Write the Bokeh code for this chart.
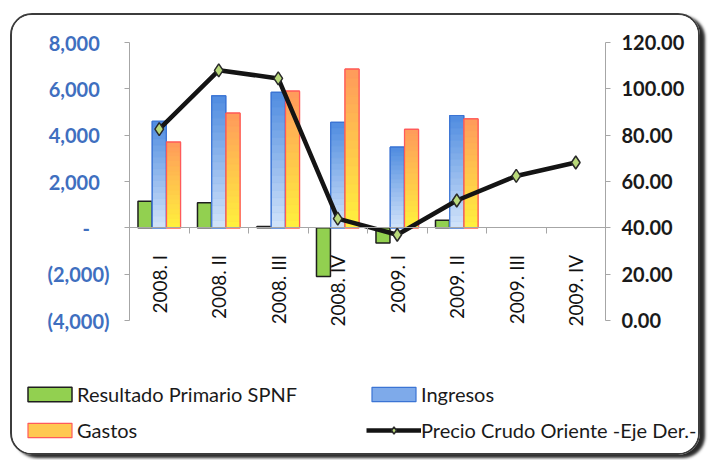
import numpy as np
from bokeh.plotting import figure
from bokeh.models import (Range1d, LinearAxis, FixedTicker, Legend, LegendItem,
                          ColumnDataSource)
from bokeh.embed import file_html
from bokeh.resources import INLINE

# Quarterly fiscal data (millions) and oil price (USD/bbl)
quarters = ["2008. I", "2008. II", "2008. III", "2008. IV",
            "2009. I", "2009. II", "2009. III", "2009. IV"]
resultado = [1150, 1080, 60, -2100, -650, 330]
ingresos = [4600, 5700, 5850, 4550, 3480, 4850]
gastos = [3700, 4950, 5900, 6850, 4250, 4700]
precio = [82.6, 108.0, 104.5, 44.0, 37.0, 51.8, 62.4, 68.2]

left_ticks = [-4000, -2000, 0, 2000, 4000, 6000, 8000]
left_tick_labels = ["(4,000)", "(2,000)", "-", "2,000", "4,000", "6,000", "8,000"]
right_ticks = [0, 20, 40, 60, 80, 100, 120]
right_tick_labels = ["0.00", "20.00", "40.00", "60.00", "80.00", "100.00", "120.00"]

FONT = "Lato"
NB = "\u00a0"

# Canvas geometry (px). The frame fills the whole canvas; the axes are pinned
# at fixed data locations and bounded, leaving room around them for labels
# and the legend.
W, H = 690, 442
AX_L, AX_R = 117, 593          # x of left / right axis lines inside canvas
AX_T, AX_B = 27, 305           # y of top / bottom ticks inside canvas

n = len(quarters)
px_x = (AX_R - AX_L) / n
x_start = -AX_L / px_x
x_end = n + (W - AX_R) / px_x

lo, hi = left_ticks[0], left_ticks[-1]
px_y = (AX_B - AX_T) / (hi - lo)
y_end = hi + AX_T / px_y
y_start = lo - (H - AX_B) / px_y

r_lo, r_hi = right_ticks[0], right_ticks[-1]
px_r = (AX_B - AX_T) / (r_hi - r_lo)
r_end = r_hi + AX_T / px_r
r_start = r_lo - (H - AX_B) / px_r

p = figure(width=W, height=H, x_range=Range1d(x_start, x_end),
           y_range=Range1d(y_start, y_end), x_axis_type=None, y_axis_type=None,
           output_backend="svg", toolbar_location=None, min_border=0)
p.outline_line_color = None
p.grid.visible = False
p.background_fill_color = "white"
p.border_fill_color = "white"
p.styles = {"margin-left": "10px", "margin-top": "13px",
            "border": "2px solid #3c3c3c", "border-radius": "22px",
            "box-shadow": "5px 3px 3px #2a2a2a", "overflow": "hidden"}


def style_value_axis(ax, color, standoff):
    ax.axis_line_color = "#a6a6a6"
    ax.major_tick_line_color = "#a6a6a6"
    ax.major_tick_out = 5
    ax.major_tick_in = 0
    ax.minor_tick_line_color = None
    ax.major_label_standoff = standoff
    ax.major_label_text_font = FONT
    ax.major_label_text_font_style = "bold"
    ax.major_label_text_font_size = "20px"
    ax.major_label_text_color = color


# Left axis (fiscal values)
ya = LinearAxis(fixed_location=0, bounds=(lo, hi),
                ticker=FixedTicker(ticks=left_ticks, minor_ticks=[]))
overrides = {}
for t, lab in zip(left_ticks, left_tick_labels):
    if t > 0:
        overrides[t] = lab + NB * 2
    elif t == 0:
        overrides[t] = lab + NB * 4
    else:
        overrides[t] = lab
ya.major_label_overrides = overrides
style_value_axis(ya, "#3f6fbf", 15)
p.add_layout(ya, "left")

# Right axis (oil price)
p.extra_y_ranges = {"precio": Range1d(r_start, r_end)}
ra = LinearAxis(y_range_name="precio", fixed_location=n, bounds=(r_lo, r_hi),
                ticker=FixedTicker(ticks=right_ticks, minor_ticks=[]))
ra.major_label_overrides = {t: lab for t, lab in zip(right_ticks, right_tick_labels)}
style_value_axis(ra, "#1a1a1a", 11)
p.add_layout(ra, "right")

# Category axis sitting on the zero line; minor ticks mark category boundaries
centers = [i + 0.5 for i in range(n)]
xa = LinearAxis(fixed_location=0, bounds=(0, n),
                ticker=FixedTicker(ticks=centers, minor_ticks=list(range(n + 1))))
xa.major_label_overrides = {c: q for c, q in zip(centers, quarters)}
xa.major_label_orientation = np.pi / 2
xa.major_tick_line_color = None
xa.minor_tick_line_color = "#a6a6a6"
xa.minor_tick_out = 6
xa.minor_tick_in = 0
xa.axis_line_color = "#a6a6a6"
xa.major_label_standoff = 21
xa.major_label_text_font = FONT
xa.major_label_text_font_size = "19px"
xa.major_label_text_color = "#111111"
p.add_layout(xa, "below")

BW = 0.235
OFF = 0.24
nb = len(resultado)
xc = np.array(centers[:nb])


def hex2rgb(h):
    h = h.lstrip("#")
    return np.array([int(h[i:i + 2], 16) for i in (0, 2, 4)], dtype=float)


def blend(c0, c1, t):
    c = hex2rgb(c0) * (1 - t) + hex2rgb(c1) * t
    return "#%02x%02x%02x" % tuple(int(round(v)) for v in c)


def gradient_bars(xpos, vals, bottom_col, top_col, line_col, mid_col, steps=18):
    """Vertical colour gradient: bars sliced from zero up to each value."""
    vals = np.asarray(vals, dtype=float)
    # base layer carries the legend swatch look
    base = p.quad(left=xpos - BW / 2, right=xpos + BW / 2, bottom=0, top=vals,
                  fill_color=mid_col, line_color=line_col, line_width=1.2)
    L, R, B, T, C = [], [], [], [], []
    for x, v in zip(xpos, vals):
        for k in range(steps):
            L.append(x - BW / 2)
            R.append(x + BW / 2)
            B.append(v * k / steps)
            T.append(v * (k + 1) / steps)
            C.append(blend(bottom_col, top_col, (k + 0.5) / steps))
    src = ColumnDataSource(dict(left=L, right=R, bottom=B, top=T, color=C))
    p.quad(left="left", right="right", bottom="bottom", top="top", source=src,
           fill_color="color", line_color="color", line_width=0.5)
    p.quad(left=xpos - BW / 2, right=xpos + BW / 2, bottom=0, top=vals,
           fill_color=None, line_color=line_col, line_width=1.2)
    return base


r_res = p.quad(left=xc - OFF - BW / 2, right=xc - OFF + BW / 2, bottom=0,
               top=resultado, fill_color="#92d050", line_color="#1e1e1e",
               line_width=1.5)
r_ing = gradient_bars(xc, ingresos, "#d3e4fa", "#4f8ce0", "#3b74d4", "#7eaaea")
r_gas = gradient_bars(xc + OFF, gastos, "#fff23c", "#ff9a5c", "#ff5a5a", "#ffc850")

# Oil price line on the secondary axis
r_line = p.line(centers, precio, y_range_name="precio", line_color="#141414",
                line_width=4.5)
r_pts = p.scatter(centers, precio, y_range_name="precio", marker="diamond",
                  size=13, fill_color="#b9d97a", line_color="#2a2a2a",
                  line_width=1.5)

leg_common = dict(orientation="vertical", spacing=12, padding=0, margin=0,
                  glyph_width=55, glyph_height=18, label_height=20,
                  label_standoff=0, border_line_color=None,
                  background_fill_alpha=0, label_text_font=FONT,
                  label_text_font_size="20px", label_text_color="#1a1a1a")
leg1 = Legend(items=[LegendItem(label="Resultado Primario SPNF", renderers=[r_res]),
                     LegendItem(label="Gastos", renderers=[r_gas])],
              location=(10, 15), **leg_common)
leg2 = Legend(items=[LegendItem(label="Ingresos", renderers=[r_ing]),
                     LegendItem(label="Precio Crudo Oriente -Eje Der.-",
                                renderers=[r_line, r_pts])],
              location=(354, 15), **leg_common)
p.add_layout(leg1, "center")
p.add_layout(leg2, "center")

open("out.html", "w").write(file_html(p, INLINE))
